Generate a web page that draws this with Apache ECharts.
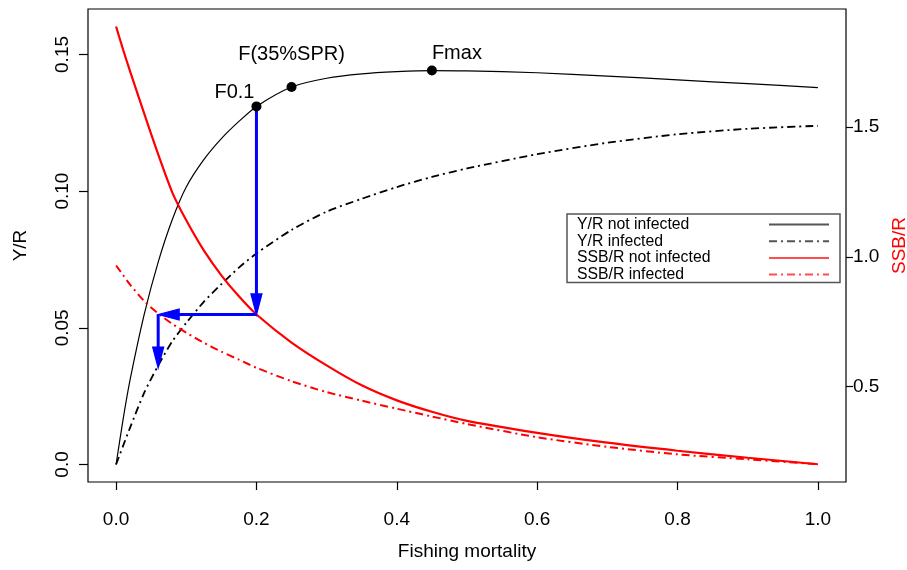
<!DOCTYPE html>
<html>
<head>
<meta charset="utf-8">
<script src="https://cdn.jsdelivr.net/npm/echarts@6/dist/echarts.min.js"></script>
<style>
html,body{margin:0;padding:0;background:#fff;}
#chart{width:907px;height:570px;}
</style>
</head>
<body>
<div id="chart"></div>
<script>
// ---- data ----
const F = [0, 0.01, 0.02, 0.04, 0.06, 0.08, 0.1, 0.125, 0.15, 0.175, 0.2, 0.25, 0.3, 0.35, 0.4, 0.45, 0.5, 0.6, 0.7, 0.8, 0.9, 1.0];
const yrNotInfected = [0, 0.0165, 0.031, 0.0548, 0.0740, 0.0895, 0.1015, 0.1115, 0.1192, 0.1255, 0.1310, 0.1381, 0.1413, 0.1429, 0.1437, 0.1441, 0.1440, 0.1433, 0.1421, 0.1407, 0.1393, 0.1379];
const yrInfected = [0, 0.0068, 0.0135, 0.0262, 0.0362, 0.0450, 0.0518, 0.0595, 0.0660, 0.0720, 0.0772, 0.0858, 0.0925, 0.0972, 0.1015, 0.1052, 0.1083, 0.1135, 0.1177, 0.1208, 0.1228, 0.1239];
const ssbNotInfected = [1.888, 1.799, 1.715, 1.553, 1.395, 1.249, 1.141, 1.025, 0.929, 0.848, 0.778, 0.670, 0.582, 0.505, 0.447, 0.403, 0.368, 0.322, 0.284, 0.253, 0.226, 0.201];
const ssbInfected = [0.967, 0.930, 0.893, 0.830, 0.782, 0.742, 0.708, 0.669, 0.635, 0.604, 0.573, 0.521, 0.479, 0.446, 0.415, 0.385, 0.356, 0.305, 0.268, 0.239, 0.220, 0.201];

const refF = [0.2, 0.25, 0.45];
const refYR = [0.131, 0.1381, 0.1441];
const refLabels = ['F0.1', 'F(35%SPR)', 'Fmax'];

// arrows: [x0, y0, x1, y1]
const arrowsYR = [[0.2, 0.131, 0.2, 0.0547], [0.06, 0.0547, 0.06, 0.0353]];
const arrowsSSB = [[0.2, 0.778, 0.06, 0.778]];

const seriesNames = ['Y/R not infected', 'Y/R infected', 'SSB/R not infected', 'SSB/R infected'];
const xTicks = [0, 0.2, 0.4, 0.6, 0.8, 1.0];
const xTickLabels = ['0.0', '0.2', '0.4', '0.6', '0.8', '1.0'];
const yLeftTicks = [0, 0.05, 0.1, 0.15];
const yLeftTickLabels = ['0.0', '0.05', '0.10', '0.15'];
const yRightTicks = [0.5, 1.0, 1.5];
const yRightTickLabels = ['0.5', '1.0', '1.5'];
const xTitle = 'Fishing mortality';
const yLeftTitle = 'Y/R';
const yRightTitle = 'SSB/R';

// ---- build ----
const FONT = "'Liberation Sans', Arial, Helvetica, sans-serif";
function pairs(ys) { return F.map((f, i) => [f, ys[i]]); }
function lookup(ticks, labels) {
  return function (v) {
    for (let i = 0; i < ticks.length; i++) if (Math.abs(ticks[i] - v) < 1e-9) return labels[i];
    return '';
  };
}
const DOTDASH = [8, 4, 2, 4];

function arrowRender(params, api) {
  const a = api.coord([api.value(0), api.value(1)]);
  const b = api.coord([api.value(2), api.value(3)]);
  const dx = b[0] - a[0], dy = b[1] - a[1];
  const len = Math.hypot(dx, dy) || 1;
  const ux = dx / len, uy = dy / len;
  const L = 21, W = 5.5;
  const base = [b[0] - ux * L, b[1] - uy * L];
  return {
    type: 'group',
    children: [
      { type: 'line', shape: { x1: a[0], y1: a[1], x2: base[0] + ux * 2, y2: base[1] + uy * 2 },
        style: { stroke: '#0000ff', lineWidth: 3 } },
      { type: 'polygon',
        shape: { points: [[b[0], b[1]], [base[0] - uy * W, base[1] + ux * W], [base[0] + uy * W, base[1] - ux * W]] },
        style: { fill: '#0000ff', stroke: '#0000ff', lineWidth: 1.2, lineJoin: 'miter' } }
    ]
  };
}

const labelCfg = [
  { position: [3, -9], align: 'right', verticalAlign: 'middle' },
  { position: [5, -28], align: 'center', verticalAlign: 'middle' },
  { position: [5, -12], align: 'left', verticalAlign: 'middle' }
];

const legendLineColors = ['#555', '#555', '#ff4d4d', '#ff4d4d'];

const chart = echarts.init(document.getElementById('chart'), null, { renderer: 'canvas' });
chart.setOption({
  animation: false,
  backgroundColor: '#fff',
  textStyle: { fontFamily: FONT },
  grid: { left: 88, right: 61, top: 9, bottom: 88, show: true, borderColor: '#000', borderWidth: 1.2,
          backgroundColor: 'transparent', containLabel: false, outerBoundsMode: 'none' },
  legend: {
    show: true,
    data: seriesNames.map((n, i) => ({ name: n, lineStyle: { color: legendLineColors[i] },
                                        itemStyle: { opacity: 0, color: 'transparent', borderWidth: 0 } })),
    orient: 'vertical', align: 'right', left: 567, top: 214,
    itemWidth: 60, itemHeight: 12, itemGap: 0.7,
    padding: [2.5, 10, 0, 10],
    borderColor: '#555', borderWidth: 1.5, backgroundColor: '#fff',
    formatter: function (name) { return '{a|' + name + '}'; },
    textStyle: { fontFamily: FONT, fontSize: 15.8, color: '#000', lineHeight: 15,
                 rich: { a: { width: 187, height: 15, align: 'left', fontSize: 15.8, lineHeight: 15, fontFamily: FONT, color: '#000' } } },
    selectedMode: false
  },
  xAxis: {
    type: 'value', min: -0.04, max: 1.04,
    axisLine: { show: false, onZero: false },
    axisTick: { show: true, customValues: xTicks, length: 8, inside: false, lineStyle: { color: '#000', width: 1.2 } },
    axisLabel: { show: true, customValues: xTicks, formatter: lookup(xTicks, xTickLabels), margin: 28,
                 fontSize: 19, color: '#000', fontFamily: FONT },
    splitLine: { show: false },
    name: xTitle, nameLocation: 'middle', nameGap: 60,
    nameTextStyle: { fontSize: 19, color: '#000', fontFamily: FONT }
  },
  yAxis: [
    {
      type: 'value', min: -0.00641, max: 0.16663, position: 'left',
      axisLine: { show: false, onZero: false },
      axisTick: { show: true, customValues: yLeftTicks, length: 9, inside: false, lineStyle: { color: '#000', width: 1.2 } },
      axisLabel: { show: true, customValues: yLeftTicks, formatter: lookup(yLeftTicks, yLeftTickLabels), rotate: 90,
                   margin: 16, fontSize: 19, color: '#000', fontFamily: FONT },
      splitLine: { show: false },
      name: yLeftTitle, nameLocation: 'middle', nameGap: 58, nameRotate: 90,
      nameTextStyle: { fontSize: 19, color: '#000', fontFamily: FONT }
    },
    {
      type: 'value', min: 0.1325, max: 1.9555, position: 'right',
      axisLine: { show: false, onZero: false },
      axisTick: { show: true, customValues: yRightTicks, length: 7, inside: false, lineStyle: { color: '#000', width: 1.2 } },
      axisLabel: { show: true, customValues: yRightTicks, formatter: lookup(yRightTicks, yRightTickLabels),
                   margin: 7, fontSize: 19, color: '#000', fontFamily: FONT },
      splitLine: { show: false },
      name: yRightTitle, nameLocation: 'middle', nameGap: 43, nameRotate: 90,
      nameTextStyle: { fontSize: 19, color: '#ff0000', fontFamily: FONT }
    }
  ],
  series: [
    { name: seriesNames[0], type: 'line', yAxisIndex: 0, data: pairs(yrNotInfected), symbol: 'none',
      smooth: 0.25, color: '#000', lineStyle: { color: '#000', width: 1.2 }, z: 3 },
    { name: seriesNames[1], type: 'line', yAxisIndex: 0, data: pairs(yrInfected), symbol: 'none',
      smooth: 0.25, color: '#000', lineStyle: { color: '#000', width: 1.8, type: DOTDASH }, z: 3 },
    { name: seriesNames[2], type: 'line', yAxisIndex: 1, data: pairs(ssbNotInfected), symbol: 'none',
      smooth: 0.25, color: '#ff0000', lineStyle: { color: '#ff0000', width: 2.2 }, z: 4 },
    { name: seriesNames[3], type: 'line', yAxisIndex: 1, data: pairs(ssbInfected), symbol: 'none',
      smooth: 0.25, color: '#ff0000', lineStyle: { color: '#ff0000', width: 2, type: DOTDASH }, z: 4 },
    { name: 'arrowsYR', type: 'custom', yAxisIndex: 0, renderItem: arrowRender, data: arrowsYR,
      encode: { x: [0, 2], y: [1, 3] }, z: 5, silent: true },
    { name: 'arrowsSSB', type: 'custom', yAxisIndex: 1, renderItem: arrowRender, data: arrowsSSB,
      encode: { x: [0, 2], y: [1, 3] }, z: 5, silent: true },
    { name: 'points', type: 'scatter', yAxisIndex: 0, symbol: 'circle', symbolSize: 10,
      itemStyle: { color: '#000', opacity: 1 }, z: 6,
      data: refF.map((f, i) => ({
        value: [f, refYR[i]],
        label: Object.assign({ show: true, formatter: refLabels[i], fontSize: 20, color: '#000',
                               opacity: 1, fontFamily: FONT }, labelCfg[i])
      }))
    }
  ]
});
</script>
</body>
</html>
